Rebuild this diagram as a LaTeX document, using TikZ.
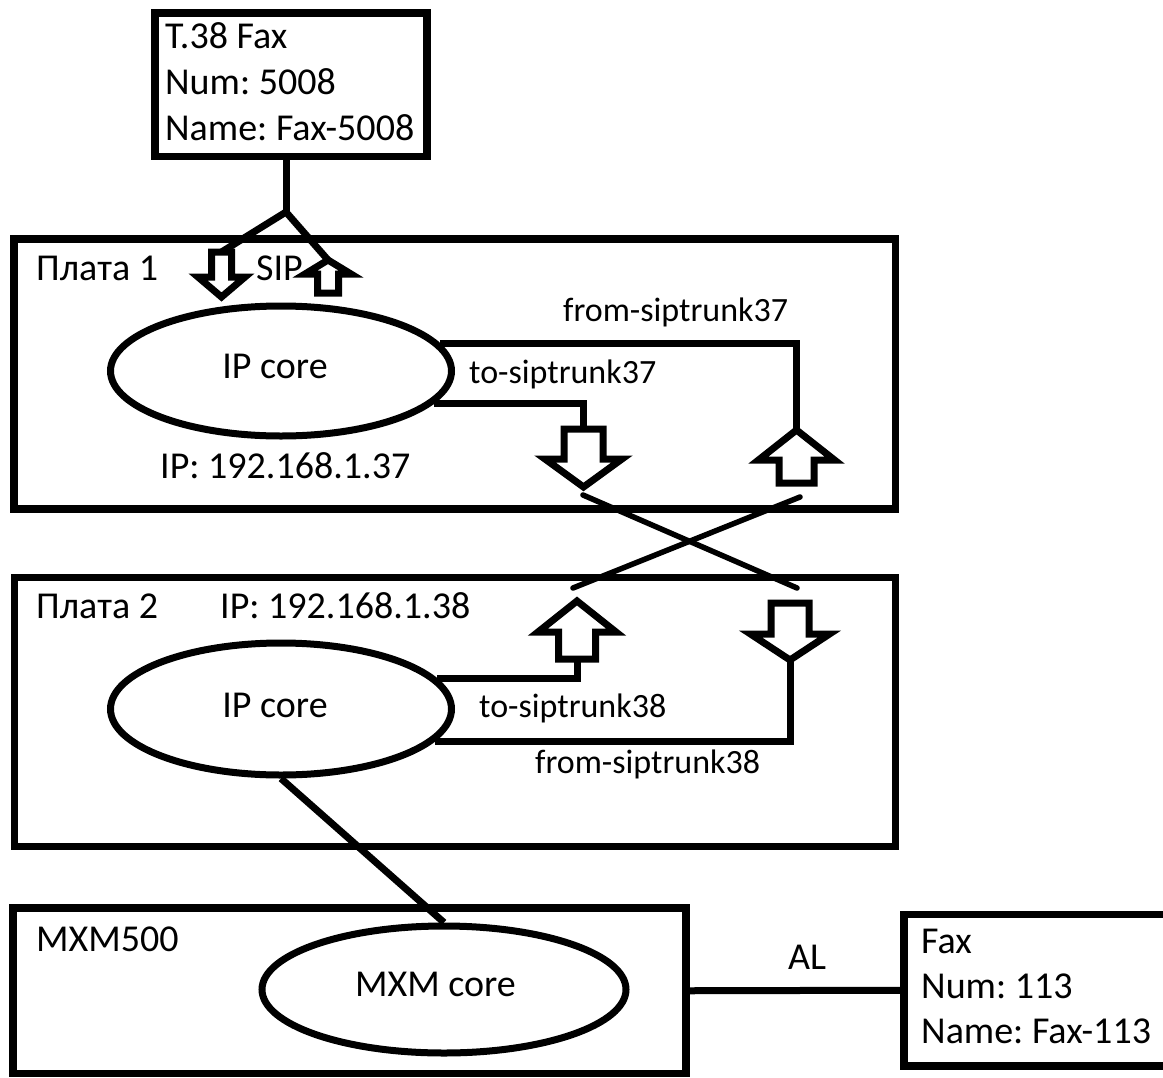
\documentclass[tikz,border=0pt]{standalone}
\usepackage{fontspec}
\setmainfont{Carlito}
\usetikzlibrary{shapes.geometric}
\newcommand\blkarrow[7]{%
  \draw[arrowline] (#2-#6,#3) -- (#2+#6,#3) -- (#2+#6,#5) -- (#2+#7,#5) -- (#2,#4) -- (#2-#7,#5) -- (#2-#6,#5) -- cycle;
  \coordinate (#1-tail) at (#2,#3);
  \coordinate (#1-tip) at (#2,#4);}
\tikzset{
  box/.style={draw, line width=7.5bp, rectangle, inner sep=0pt},
  core/.style={draw, line width=7bp, ellipse, inner sep=0pt},
  conn/.style={line width=7bp},
  arrowline/.style={line width=7bp, line join=miter},
  crossline/.style={line width=5.5bp, line cap=round},
  txt/.style={inner sep=0pt, anchor=base west, font=\fontsize{38bp}{44bp}\selectfont\frenchspacing},
  lbl/.style={inner sep=0pt, anchor=base west, font=\fontsize{34bp}{40bp}\selectfont\frenchspacing},
}
\begin{document}
\begin{tikzpicture}[x=1bp, y=-1bp]
\useasboundingbox (0,0) rectangle (1163,1078);
\fill[white] (0,0) rectangle (1163,1078);
\clip (0,0) rectangle (1163,1078);

% boxes
\node[box, minimum width=272bp, minimum height=143.5bp] (t38) at (291,84.75) {};
\node[box, minimum width=881.5bp, minimum height=270bp] (board1) at (454.75,374) {};
\node[box, minimum width=881bp, minimum height=269bp] (board2) at (455,712) {};
\node[box, minimum width=673bp, minimum height=165.5bp] (mxmbox) at (349.5,990.75) {};
\node[box, minimum width=271bp, minimum height=151.5bp] (fax) at (1039.5,990.25) {};

% ellipses
\node[core, minimum width=341bp, minimum height=130bp] (ip1) at (281,371) {};
\node[core, minimum width=341bp, minimum height=132bp] (ip2) at (281,709) {};
\node[core, minimum width=364bp, minimum height=127bp] (mxm) at (444,989.5) {};

% texts
\node[txt] (t38a) at (165,48) {T.38 Fax};
\node[txt] (t38b) at (165,94) {Num: 5008};
\node[txt] (t38c) at (165,140) {Name: Fax-5008};
\node[txt] (pl1) at (36,280) {Плата 1};
\node[txt] (sip) at (256,280) {SIP};
\node[txt, anchor=base] (ip1txt) at (275,378) {IP core};
\node[txt] (ip1addr) at (160,478) {IP: 192.168.1.37};
\node[lbl] (from37) at (563,321) {from-siptrunk37};
\node[lbl] (to37) at (469,383) {to-siptrunk37};
\node[txt] (pl2) at (36,618) {Плата 2};
\node[txt] (ip2addr) at (220,618) {IP: 192.168.1.38};
\node[txt, anchor=base] (ip2txt) at (275,717) {IP core};
\node[lbl] (to38) at (479,717) {to-siptrunk38};
\node[lbl] (from38) at (535,773) {from-siptrunk38};
\node[txt] (mxm500) at (36,951) {MXM500};
\node[txt, anchor=base] (mxmtxt) at (435.5,996) {MXM core};
\node[txt, anchor=base] (al) at (807,969) {AL};
\node[txt] (faxa) at (921,953) {Fax};
\node[txt] (faxb) at (921,998) {Num: 113};
\node[txt] (faxc) at (921,1043) {Name: Fax-113};

% block arrows: name, x, tail y, tip y, wing y, shaft half, wing half
\blkarrow{s1}{221.5}{252}{297}{277}{10}{23.5}
\blkarrow{s2}{328}{293}{260}{274}{10.5}{23}
\blkarrow{a1}{583.5}{429}{487}{459}{19.5}{38.5}
\blkarrow{b1}{796.5}{483}{430}{460}{17.5}{38}
\blkarrow{b2}{577}{659}{601}{632}{18.5}{39}
\blkarrow{a2}{790}{603}{660}{634}{19}{39.5}

% SIP fork
\coordinate (fork) at (286,212);
\draw[conn] (fork |- t38.south) -- (fork);
\draw[conn] (fork) -- (s1-tail);
\draw[conn] (fork) -- (s2-tip);

% trunks
\draw[conn] (ip1.10) -| (b1-tip);
\draw[conn] (ip1.-12) -| (a1-tail);
\draw[conn] (ip2.11) -| (b2-tail);
\draw[conn] (ip2.-12) -| (a2-tip);

% crossing
\coordinate (x1s) at (583,495);
\coordinate (x1e) at (797,588);
\coordinate (x2s) at (800,497);
\coordinate (x2e) at (573,588);
\draw[crossline] (x1s) -- (x1e);
\draw[crossline] (x2s) -- (x2e);

% IP core 2 to MXM core, and analog line
\draw[conn] (ip2.south) -- (mxm.north);
\draw[conn] (mxmbox.east) -- (fax.west);
\end{tikzpicture}
\end{document}
